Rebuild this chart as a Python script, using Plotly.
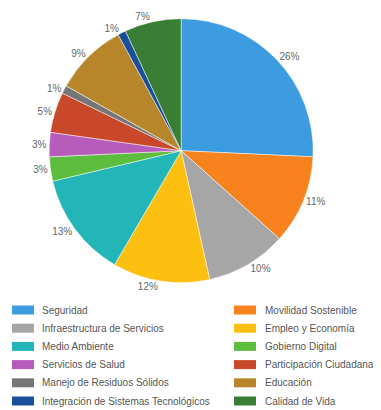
import plotly.graph_objects as go

labels = ["Seguridad", "Movilidad Sostenible", "Infraestructura de Servicios", "Empleo y Economía",
          "Medio Ambiente", "Gobierno Digital", "Servicios de Salud", "Participación Ciudadana",
          "Manejo de Residuos Sólidos", "Educación", "Integración de Sistemas Tecnológicos", "Calidad de Vida"]
values = [26, 11, 10, 12, 13, 3, 3, 5, 1, 9, 1, 7]
colors = ["#3d9be0", "#f7821e", "#a6a6a6", "#fdbf10", "#22b6b8", "#5cbd3e",
          "#b85cbc", "#c9482a", "#767676", "#b8862a", "#1a4f9a", "#3a7d34"]

W, H = 381, 410

fig = go.Figure(go.Pie(
    labels=labels, values=values, sort=False, direction="clockwise", rotation=0,
    marker=dict(colors=colors, line=dict(color="white", width=0.5)),
    texttemplate="%{value}%", textposition="outside",
    textfont=dict(size=10, color="#666666", family="Liberation Sans"),
    domain=dict(x=[0.108, 0.801], y=[0.33, 0.974]),
    hoverinfo="label+value", showlegend=False,
))

# Legend drawn as two columns, row-major, from labels/colors
col_swatch_x = [4, 226]
col_text_x = [32, 255]
row_y0 = 302
row_step = 18.2
sw_w, sw_h = 22, 9
shapes, annots = [], []
for i, (lab, col) in enumerate(zip(labels, colors)):
    r, c = divmod(i, 2)
    yc = row_y0 + r * row_step
    shapes.append(dict(type="rect", xref="paper", yref="paper",
                       x0=col_swatch_x[c] / W, x1=(col_swatch_x[c] + sw_w) / W,
                       y0=1 - (yc + sw_h / 2) / H, y1=1 - (yc - sw_h / 2) / H,
                       fillcolor=col, line=dict(width=0)))
    annots.append(dict(xref="paper", yref="paper", x=col_text_x[c] / W, y=1 - yc / H,
                       xanchor="left", yanchor="middle", showarrow=False, text=lab,
                       font=dict(size=10, color="#555555", family="Liberation Sans")))

fig.update_layout(
    width=W, height=H, margin=dict(l=0, r=0, t=0, b=0, autoexpand=False),
    paper_bgcolor="white", plot_bgcolor="white",
    font=dict(family="Liberation Sans", size=10, color="#555555"),
    shapes=shapes, annotations=annots, showlegend=False,
)
fig.write_html("out.html")
